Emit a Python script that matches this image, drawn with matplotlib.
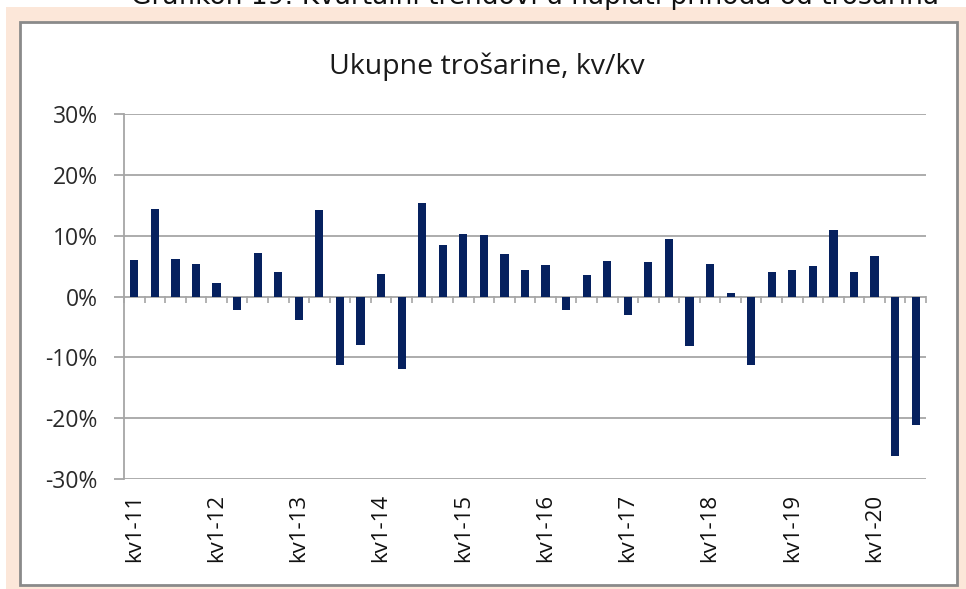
import matplotlib
matplotlib.use("Agg")
import matplotlib.pyplot as plt
from matplotlib.patches import Rectangle
from matplotlib.ticker import FuncFormatter, FixedLocator

# ---- data ----
years = list(range(11, 21))
categories = [f"kv{q}-{y}" for y in years for q in range(1, 5)][:39]
values = [6.0, 14.4, 6.2, 5.4, 2.3, -2.2, 7.2, 4.1,
          -3.8, 14.2, -11.2, -8.0, 3.7, -11.9, 15.3, 8.5,
          10.3, 10.1, 7.0, 4.3, 5.2, -2.3, 3.5, 5.8,
          -3.1, 5.6, 9.5, -8.2, 5.4, 0.5, -11.2, 4.1,
          4.3, 5.0, 11.0, 4.1, 6.6, -26.2, -21.1]
y_ticks = [-30, -20, -10, 0, 10, 20, 30]
chart_title = "Ukupne trošarine, kv/kv"
page_title = "Grafikon 19: Kvartalni trendovi u naplati prihoda od trošarina"

W, H = 966, 589
fig = plt.figure(figsize=(W / 100, H / 100), dpi=100)
fig.patch.set_facecolor("white")

def fx(px):
    return px / W

def fy(py):
    return 1 - py / H

FONT = ["Open Sans", "DejaVu Sans"]

# peach background panel
fig.patches.append(Rectangle((fx(6), 0), 1 - fx(6), fy(7), transform=fig.transFigure,
                             facecolor="#FCE7D9", edgecolor="none", zorder=0))
# white chart box with gray border
fig.patches.append(Rectangle((fx(20), fy(585)), fx(957) - fx(20), fy(22) - fy(585),
                             transform=fig.transFigure, facecolor="white",
                             edgecolor="#8A8A8A", linewidth=2, zorder=1))

fig.text(fx(535), fy(4), page_title, ha="center", va="baseline",
         fontsize=19, family="DejaVu Sans", color="#111111")

fig.text(fx(487), fy(74), chart_title, ha="center", va="baseline",
         fontsize=20.5, family=FONT, color="#1a1a1a")

ax = fig.add_axes([fx(124), fy(479), fx(926) - fx(124), fy(114) - fy(479)])
ax.set_facecolor("none")
ax.set_zorder(2)

x = list(range(len(values)))
ax.bar(x, values, width=0.4, color="#06215F", zorder=3)

ax.set_xlim(-0.5, len(values) - 0.5)
ax.set_ylim(-30, 30)
ax.set_yticks(y_ticks)
ax.yaxis.set_major_formatter(FuncFormatter(lambda v, p: f"{v:.0f}%"))
ax.grid(axis="y", color="#A6A6A6", linewidth=1.3, zorder=1)
ax.set_axisbelow(True)

for s in ["top", "right", "bottom"]:
    ax.spines[s].set_visible(False)
ax.spines["left"].set_color("#A6A6A6")
ax.spines["left"].set_linewidth(1.3)

ax.tick_params(axis="y", length=7, width=1.3, color="#A6A6A6", pad=12,
               labelsize=16.5, labelcolor="#2a2a2a")
for t in ax.get_yticklabels():
    t.set_family(FONT)

label_pos = [i for i in x if i % 4 == 0]
ax.set_xticks(label_pos)
ax.set_xticklabels([categories[i] for i in label_pos], rotation=90,
                   fontsize=16, family=FONT, color="#111111")
ax.tick_params(axis="x", length=0, pad=11)

# category boundary ticks at the zero line, pointing down
sec = ax.secondary_xaxis(0.5)
sec.xaxis.set_major_locator(FixedLocator([i + 0.5 for i in range(-1, len(values))]))
sec.tick_params(axis="x", direction="in", length=5, width=1.2, color="#A6A6A6",
                labelbottom=False, labeltop=False)
for s in sec.spines.values():
    s.set_visible(False)

fig.savefig("out.png", dpi=100)
